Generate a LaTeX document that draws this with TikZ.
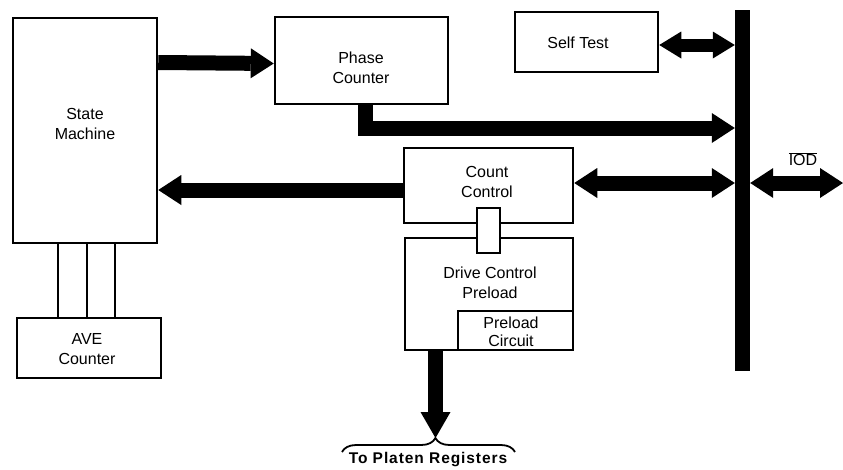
\documentclass[tikz,border=0pt]{standalone}
\usepackage{fontspec}
\setmainfont{Liberation Sans}
\usetikzlibrary{arrows.meta, calc, decorations.pathreplacing}

\begin{document}
\begin{tikzpicture}[x=1pt, y=-1pt,
    bloc/.style={draw, line width=2.5pt, fill=white, inner sep=0pt},
    texte/.style={align=center, font=\fontsize{16}{20}\selectfont},
    fil/.style={line width=2pt},
    fleche/.style={line width=15pt, line join=miter, -{Triangle[length=23pt, width=30pt, line width=0pt]}},
    double/.style={line width=15pt, {Triangle[length=23pt, width=30pt, line width=0pt]}-{Triangle[length=23pt, width=30pt, line width=0pt]}}]

    \useasboundingbox (0,0) rectangle (843,469);

    % Définition des blocs
    \node[bloc, minimum width=144pt, minimum height=225pt] (etat) at (85,130.5) {};
    \node[bloc, minimum width=173pt, minimum height=87pt] (phase) at (361.5,60.5) {};
    \node[bloc, minimum width=143pt, minimum height=60pt] (test) at (586.5,42) {};
    \node[bloc, minimum width=169pt, minimum height=75pt] (count) at (488.5,185.5) {};
    \node[bloc, minimum width=168pt, minimum height=112pt] (drive) at (489,294) {};
    \node[bloc, minimum width=115pt, minimum height=39pt] (preload) at (515.5,330.5) {};
    \node[bloc, minimum width=144pt, minimum height=60pt] (ave) at (89,348) {};
    \node[bloc, minimum width=23pt, minimum height=45pt] (lien) at (488.5,230.5) {};

    % Bus vertical
    \node[fill, minimum width=15pt, minimum height=361pt, inner sep=0pt] (bus) at (742.5,190.5) {};

    % Textes des blocs
    \node[texte] (etat-t) at (85,124) {State\\Machine};
    \node[texte] (phase-t) at (361,68) {Phase\\Counter};
    \node[texte] (test-t) at (578,43) {Self Test};
    \node[texte] (count-t) at (487,182) {Count\\Control};
    \node[texte] (drive-t) at (490,283) {Drive Control\\Preload};
    \node[texte, font=\fontsize{16}{17.5}\selectfont] (preload-t) at (511,332) {Preload\\Circuit};
    \node[texte] (ave-t) at (87,349) {AVE\\Counter};

    % Liaisons entre State Machine et AVE Counter
    \foreach \dx in {-27,2,30}
        \draw[fil] ($(etat.south)+(\dx,0)$) coordinate (h) -- (h |- ave.north);

    % Définition des flèches
    \coordinate (jonction) at (bus.west |- 0,128);
    \coordinate (iod) at (843,183);
    \coordinate (platine) at (435.5,438);

    \draw[fleche] ([yshift=-2pt]etat.east |- phase.west) -- (phase.west |- 0,63.5);
    \draw[fleche] ([xshift=3.5pt]phase.south) |- (jonction);
    \draw[fleche] ([yshift=-4.5pt]count.west) -- ([yshift=-4.5pt]etat.east |- count.west);
    \draw[double] ([yshift=2.5pt]count.east) -- ([yshift=2.5pt]bus.west |- count.east);
    \draw[double] (bus.east |- iod) -- (iod);
    \draw[line width=13pt, {Triangle[length=22pt, width=27pt, line width=0pt]}-{Triangle[length=22pt, width=27pt, line width=0pt]}]
        ([yshift=-3pt]test.east) -- ([yshift=-3pt]bus.west |- test.east);
    \draw[fleche, -{Triangle[length=26pt, width=30pt, line width=0pt]}] (drive.south -| platine) -- (platine);

    \node[font=\fontsize{16}{16}\selectfont] (iod-t) at (803,159) {$\overline{\hbox{IOD}}$};

    % Accolade vers les registres
    \draw[line width=1.8pt, decorate, decoration={brace, amplitude=14pt, aspect=0.54}]
        (342,452) -- (515,452);
    \node[font=\bfseries\fontsize{15.5}{15.5}\selectfont\addfontfeature{LetterSpace=6}] (registres) at (428,460) {To Platen Registers};

\end{tikzpicture}
\end{document}
